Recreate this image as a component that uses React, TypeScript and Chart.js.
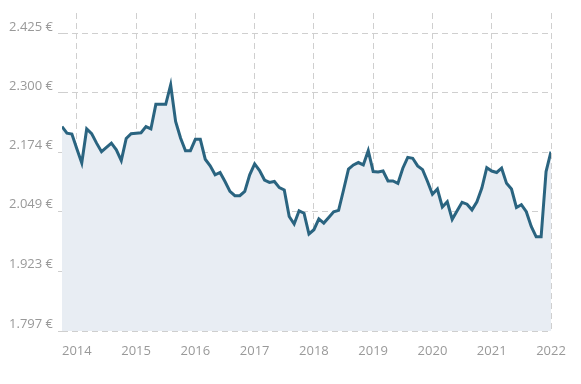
import { useEffect, useRef } from "react";
import { Chart, registerables } from "chart.js";

Chart.register(...registerables);

// Monthly series, first point = October 2013, last point = January 2022
const FIRST_MONTH_INDEX_OF_2014 = 3;
const prices = [
  2.229, 2.215, 2.213, 2.182, 2.152, 2.224, 2.214, 2.194, 2.176, 2.185, 2.194, 2.18,
  2.157, 2.204, 2.214, 2.215, 2.216, 2.229, 2.224, 2.276, 2.276, 2.276, 2.317, 2.24,
  2.205, 2.178, 2.178, 2.202, 2.202, 2.16, 2.146, 2.127, 2.132, 2.113, 2.092, 2.083,
  2.083, 2.092, 2.127, 2.15, 2.136, 2.116, 2.111, 2.113, 2.1, 2.095, 2.039, 2.023,
  2.051, 2.046, 2.002, 2.011, 2.034, 2.025, 2.037, 2.049, 2.052, 2.095, 2.139, 2.148,
  2.153, 2.148, 2.178, 2.134, 2.133, 2.135, 2.114, 2.114, 2.109, 2.141, 2.164, 2.162,
  2.146, 2.138, 2.113, 2.086, 2.097, 2.059, 2.07, 2.033, 2.051, 2.069, 2.065, 2.053,
  2.07, 2.099, 2.142, 2.135, 2.132, 2.141, 2.109, 2.097, 2.058, 2.064, 2.049, 2.018,
  1.996, 1.996, 2.134, 2.176,
];

const yTickValues = [1.797, 1.923, 2.049, 2.174, 2.3, 2.425];
const yTickLabels = ["1.797 €", "1.923 €", "2.049 €", "2.174 €", "2.300 €", "2.425 €"];
const yearLabels = ["2014", "2015", "2016", "2017", "2018", "2019", "2020", "2021", "2022"];

export default function App() {
  const ref = useRef<HTMLCanvasElement | null>(null);

  useEffect(() => {
    if (!ref.current) return;
    const points = prices.map((v, i) => ({ x: i, y: v }));
    const gridColor = "#cfcfcf";
    const labelColor = "#999999";
    const font = { family: "'Open Sans', 'Noto Sans', sans-serif", size: 13 };

    const chart = new Chart(ref.current, {
      type: "line",
      data: {
        datasets: [
          {
            data: points,
            borderColor: "#2a6480",
            borderWidth: 3,
            backgroundColor: "#e8edf3",
            fill: "start",
            pointRadius: 0,
            tension: 0,
          },
        ],
      },
      options: {
        animation: false,
        responsive: false,
        devicePixelRatio: 1,
        layout: { padding: { top: 13, right: 30, left: 0, bottom: 0 } },
        plugins: { legend: { display: false }, tooltip: { enabled: false } },
        scales: {
          x: {
            type: "linear",
            min: 0,
            max: prices.length - 1,
            afterBuildTicks: (s: any) => {
              s.ticks = yearLabels.map((_, k) => ({ value: FIRST_MONTH_INDEX_OF_2014 + 12 * k }));
            },
            afterFit: (s: any) => {
              s.height = 53;
            },
            ticks: {
              autoSkip: false,
              maxRotation: 0,
              padding: 12,
              color: labelColor,
              font,
              callback: (v: any) => yearLabels[Math.round((Number(v) - FIRST_MONTH_INDEX_OF_2014) / 12)] ?? "",
            },
            grid: { color: gridColor, drawTicks: false, lineWidth: 1 },
            border: { display: false, dash: [6, 4] },
          },
          y: {
            type: "linear",
            min: 1.797,
            max: 2.469,
            afterBuildTicks: (s: any) => {
              s.ticks = yTickValues.map((v) => ({ value: v }));
            },
            afterFit: (s: any) => {
              s.width = 62;
            },
            ticks: {
              padding: 5,
              labelOffset: -7,
              color: labelColor,
              font,
              callback: (_v: any, i: number) => yTickLabels[i],
            },
            grid: { color: gridColor, drawTicks: true, tickLength: 4, lineWidth: 1 },
            border: { display: false, dash: [6, 4] },
          },
        },
      },
    });
    return () => chart.destroy();
  }, []);

  return (
    <div style={{ position: "fixed", left: 0, top: 0, width: 581, height: 384, background: "#fff" }}>
      <canvas ref={ref} width={581} height={384} style={{ width: 581, height: 384 }} />
    </div>
  );
}
